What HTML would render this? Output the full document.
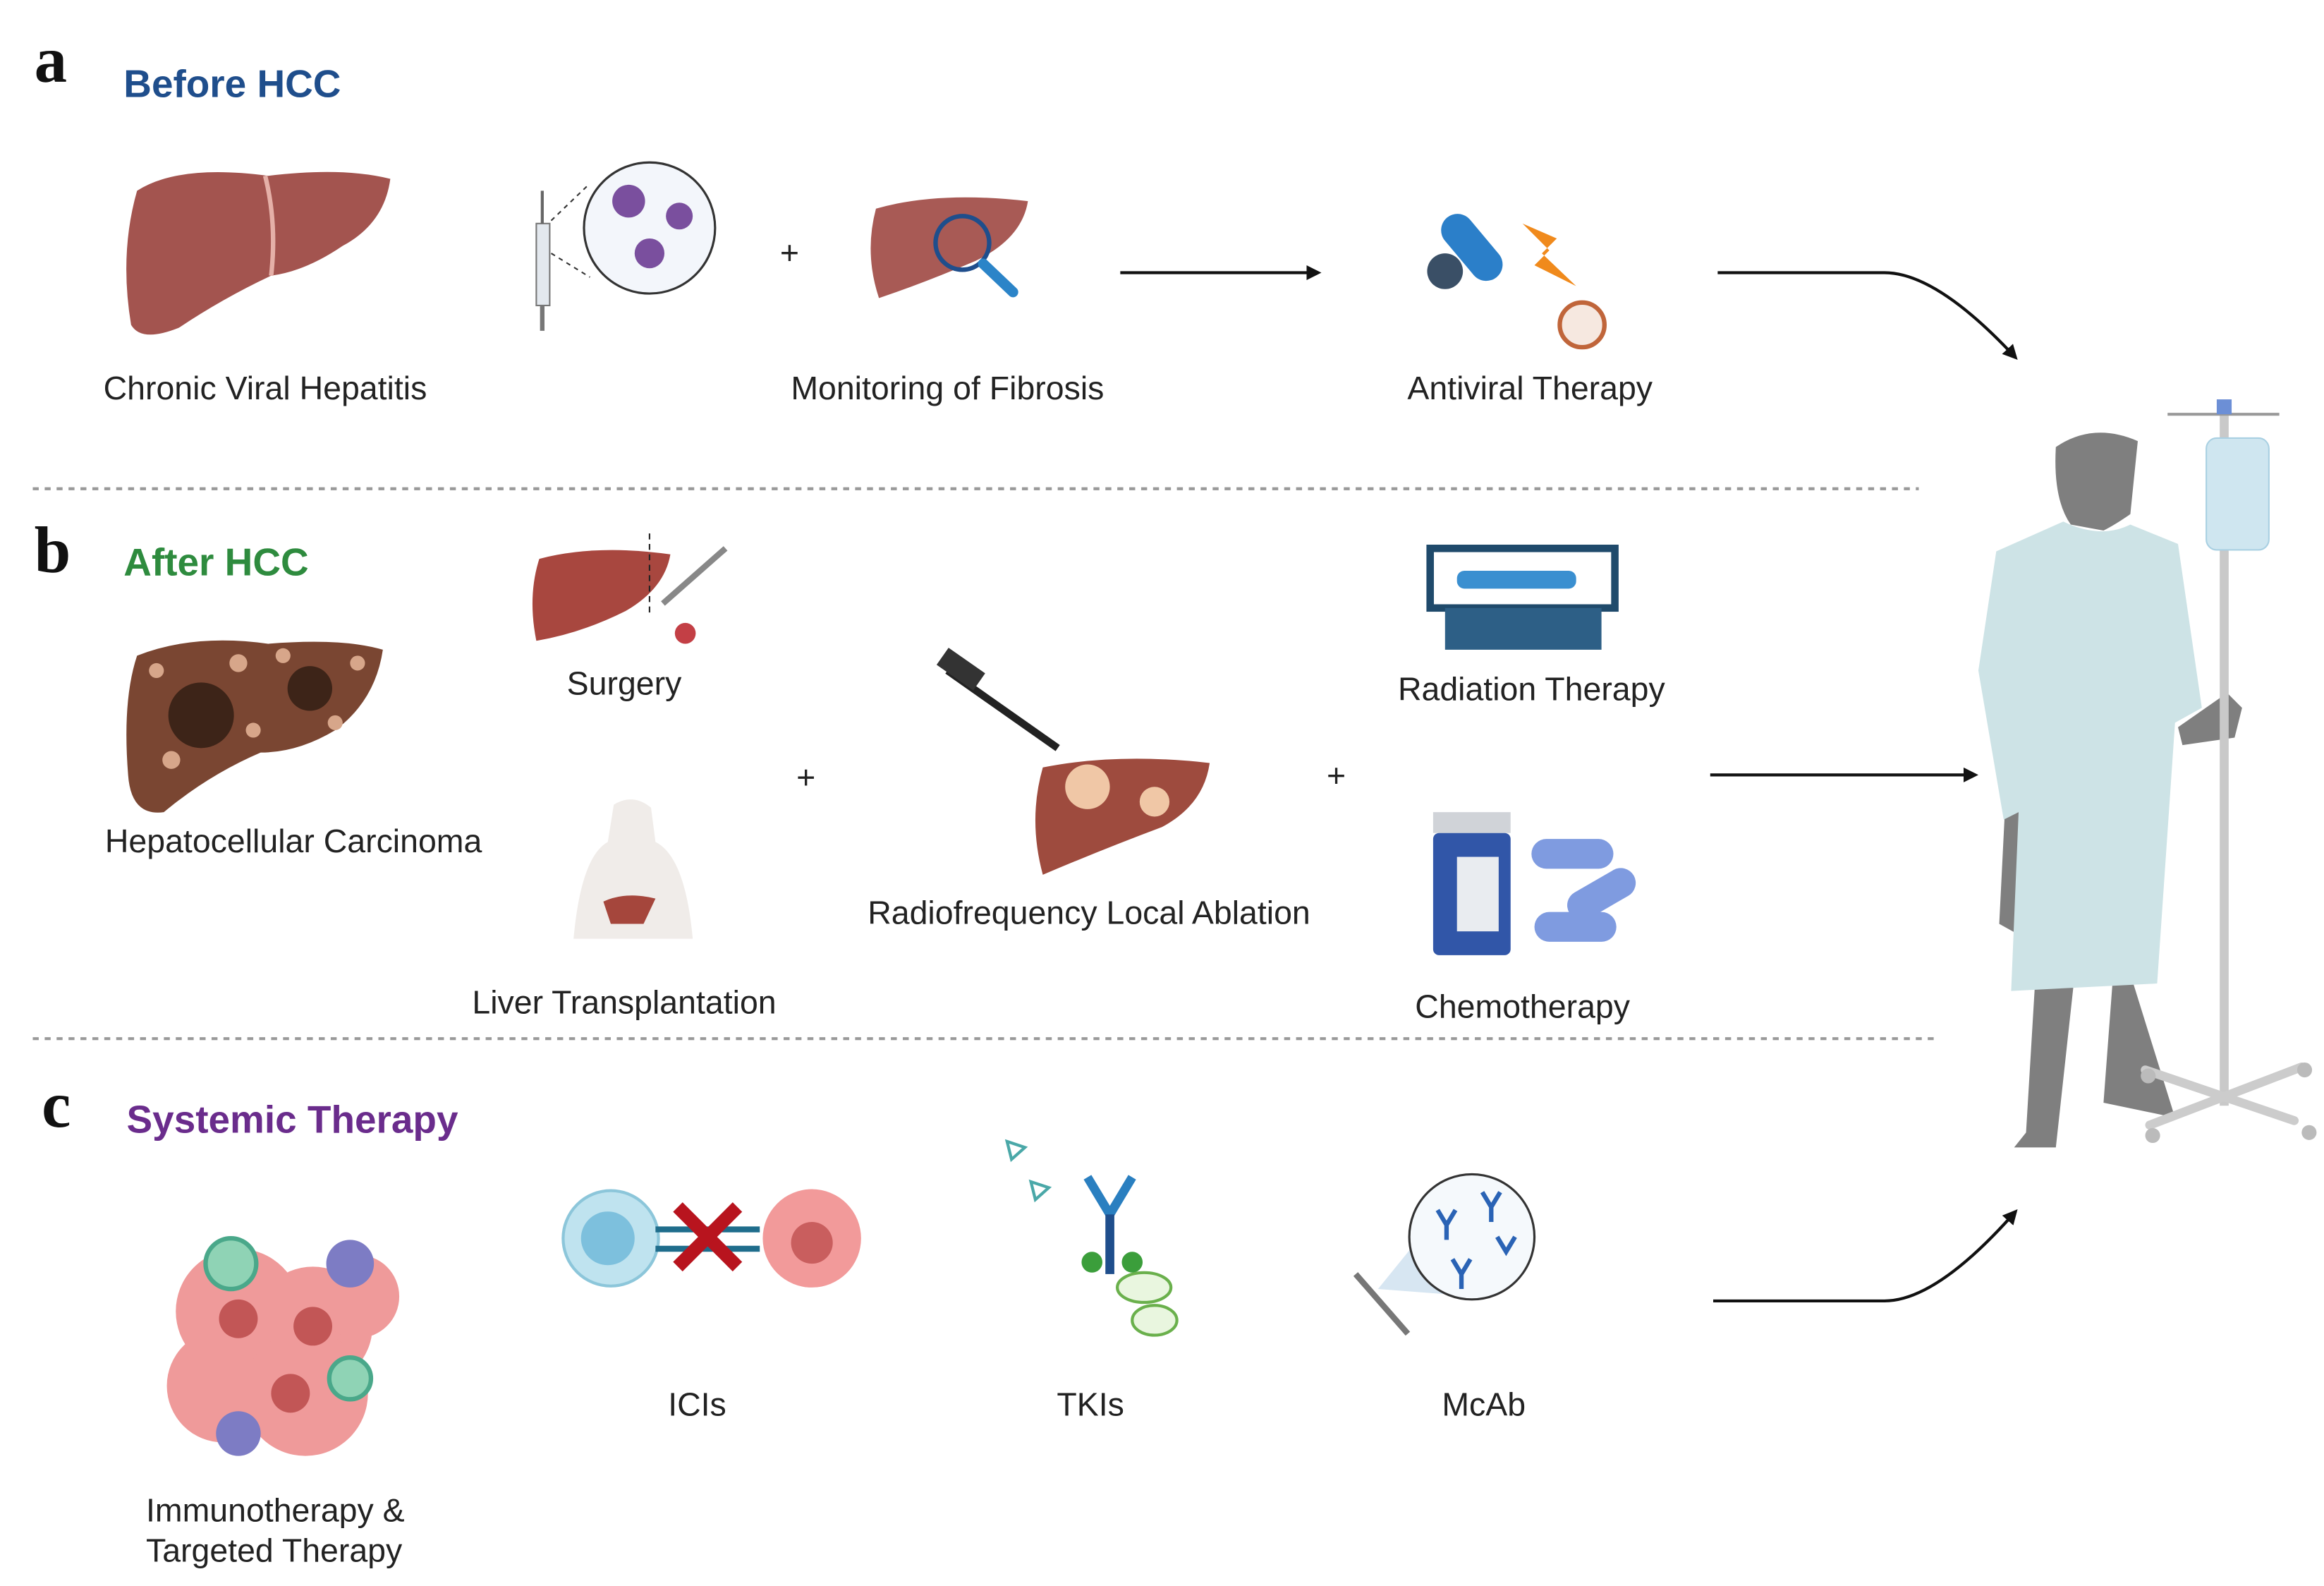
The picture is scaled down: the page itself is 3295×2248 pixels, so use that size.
<!DOCTYPE html>
<html><head><meta charset="utf-8"><style>
html,body{margin:0;padding:0;background:#fff;}
svg{display:block;}
text{font-family:"Liberation Sans",sans-serif;}
text.ser{font-family:"Liberation Serif",serif;}
</style></head><body>
<svg width="3295" height="2248" viewBox="0 0 1560 1064.3" xmlns="http://www.w3.org/2000/svg">
<defs>
<marker id="ah" markerWidth="10" markerHeight="10" refX="8" refY="5" orient="auto" markerUnits="userSpaceOnUse"><path d="M0,0 L10,5 L0,10 z" fill="#111"/></marker>
</defs>
<rect width="1560" height="1065" fill="#fff"/>
<!-- Section a -->
<text class="ser" x="23" y="55" font-weight="bold" font-size="44" fill="#111">a</text>
<text x="83" y="65" font-weight="bold" font-size="26" fill="#1f4e8c">Before HCC</text>
<path d="M92,128 Q120,110 180,118 Q230,112 262,120 Q258,150 230,165 Q205,182 182,185 Q150,200 120,220 Q95,230 88,218 Q80,170 92,128z" fill="#a3544f"/>
<path d="M178,118 Q186,150 182,185" stroke="#e5b0a8" stroke-width="3" fill="none"/>
<text x="178" y="268" font-size="22" text-anchor="middle" fill="#222">Chronic Viral Hepatitis</text>
<rect x="360" y="150" width="9" height="55" fill="#e3e8ee" stroke="#777"/>
<line x1="364" y1="128" x2="364" y2="150" stroke="#666" stroke-width="2"/>
<line x1="364" y1="205" x2="364" y2="222" stroke="#777" stroke-width="3"/>
<circle cx="436" cy="153" r="44" fill="#f3f6fb" stroke="#333" stroke-width="1.5"/>
<line x1="370" y1="148" x2="394" y2="125" stroke="#333" stroke-dasharray="3,3"/>
<line x1="370" y1="170" x2="396" y2="186" stroke="#333" stroke-dasharray="3,3"/>
<circle cx="422" cy="135" r="11" fill="#7a4f9e"/><circle cx="456" cy="145" r="9" fill="#7a4f9e"/><circle cx="436" cy="170" r="10" fill="#7a4f9e"/>
<text x="530" y="177" font-size="22" text-anchor="middle" fill="#222">+</text>
<path d="M588,140 Q630,128 690,135 Q686,160 655,175 Q620,190 590,200 Q580,170 588,140z" fill="#a85a55"/>
<circle cx="646" cy="163" r="18" fill="none" stroke="#1f4e8c" stroke-width="3"/>
<line x1="660" y1="177" x2="680" y2="196" stroke="#2b84c8" stroke-width="7" stroke-linecap="round"/>
<text x="636" y="268" font-size="22" text-anchor="middle" fill="#222">Monitoring of  Fibrosis</text>
<line x1="752" y1="183" x2="885" y2="183" stroke="#111" stroke-width="2" marker-end="url(#ah)"/>
<rect x="977" y="140" width="22" height="52" rx="11" transform="rotate(-40 988 166)" fill="#2b7fc9"/>
<circle cx="970" cy="182" r="12" fill="#3a4f66"/>
<path d="M1022,150 L1045,160 L1035,170 L1058,192 L1030,178 L1040,168z" fill="#f08a1c"/>
<circle cx="1062" cy="218" r="15" fill="#f6e8e0" stroke="#c0653a" stroke-width="3"/>
<text x="1027" y="268" font-size="22" text-anchor="middle" fill="#222">Antiviral Therapy</text>
<path d="M1153,183 L1265,183 Q1300,183 1353,240" stroke="#111" stroke-width="2" fill="none" marker-end="url(#ah)"/>
<line x1="22" y1="328" x2="1288" y2="328" stroke="#999" stroke-width="2" stroke-dasharray="4,4"/>
<!-- Section b -->
<text class="ser" x="23" y="384" font-weight="bold" font-size="44" fill="#111">b</text>
<text x="83" y="386" font-weight="bold" font-size="26" fill="#2e8b3e">After HCC</text>
<path d="M92,440 Q130,425 180,432 Q230,428 257,436 Q252,470 225,490 Q200,505 175,505 Q140,520 110,545 Q88,548 86,520 Q82,470 92,440z" fill="#7a4632"/>
<circle cx="135" cy="480" r="22" fill="#3d2418"/><circle cx="208" cy="462" r="15" fill="#3d2418"/>
<g fill="#d7a68a"><circle cx="105" cy="450" r="5"/><circle cx="160" cy="445" r="6"/><circle cx="240" cy="445" r="5"/><circle cx="115" cy="510" r="6"/><circle cx="170" cy="490" r="5"/><circle cx="225" cy="485" r="5"/><circle cx="190" cy="440" r="5"/></g>
<text x="197" y="572" font-size="22" text-anchor="middle" fill="#222">Hepatocellular Carcinoma</text>
<path d="M362,375 Q400,365 450,372 Q446,395 420,410 Q390,425 360,430 Q354,400 362,375z" fill="#a8473f"/>
<line x1="436" y1="358" x2="436" y2="412" stroke="#222" stroke-dasharray="4,3"/>
<line x1="445" y1="405" x2="487" y2="368" stroke="#888" stroke-width="4"/>
<circle cx="460" cy="425" r="7" fill="#c33f45"/>
<text x="419" y="466" font-size="22" text-anchor="middle" fill="#222">Surgery</text>
<path d="M412,540 Q425,532 437,542 L440,565 Q460,575 465,630 L385,630 Q390,575 408,565z" fill="#f0ece9"/>
<path d="M405,605 Q420,598 440,603 L432,620 L410,620z" fill="#a5463c"/>
<text x="419" y="680" font-size="22" text-anchor="middle" fill="#222">Liver Transplantation</text>
<text x="541" y="529" font-size="22" text-anchor="middle" fill="#222">+</text>
<line x1="636" y1="450" x2="710" y2="502" stroke="#222" stroke-width="5"/>
<rect x="630" y="442" width="30" height="14" transform="rotate(35 645 449)" fill="#333"/>
<path d="M700,515 Q750,505 812,512 Q808,540 780,555 Q740,570 700,587 Q690,550 700,515z" fill="#9e4b3e"/>
<circle cx="730" cy="528" r="15" fill="#f0c7a6"/><circle cx="775" cy="538" r="10" fill="#f0c7a6"/>
<text x="731" y="620" font-size="22" text-anchor="middle" fill="#222">Radiofrequency Local Ablation</text>
<text x="897" y="528" font-size="22" text-anchor="middle" fill="#222">+</text>
<rect x="960" y="368" width="124" height="40" fill="#fff" stroke="#1f4a6b" stroke-width="5"/>
<rect x="978" y="383" width="80" height="12" rx="5" fill="#3a8fd0"/>
<rect x="970" y="408" width="105" height="28" fill="#2d5f86"/>
<text x="1028" y="470" font-size="22" text-anchor="middle" fill="#222">Radiation Therapy</text>
<rect x="962" y="545" width="52" height="14" fill="#d0d3d8"/>
<rect x="962" y="559" width="52" height="82" rx="4" fill="#3156a8"/>
<rect x="978" y="575" width="28" height="50" fill="#e9ecf0"/>
<rect x="1028" y="563" width="55" height="20" rx="10" fill="#7f9be0"/>
<rect x="1050" y="590" width="50" height="20" rx="10" transform="rotate(-30 1075 600)" fill="#7f9be0"/>
<rect x="1030" y="612" width="55" height="20" rx="10" fill="#7f9be0"/>
<text x="1022" y="683" font-size="22" text-anchor="middle" fill="#222">Chemotherapy</text>
<line x1="1148" y1="520" x2="1326" y2="520" stroke="#111" stroke-width="2" marker-end="url(#ah)"/>
<line x1="22" y1="697" x2="1300" y2="697" stroke="#999" stroke-width="2" stroke-dasharray="4,4"/>
<!-- Section c -->
<text class="ser" x="28" y="756" font-weight="bold" font-size="44" fill="#111">c</text>
<text x="85" y="760" font-weight="bold" font-size="26" fill="#6a2c8c">Systemic Therapy</text>
<g fill="#ef9a9a"><circle cx="160" cy="880" r="42"/><circle cx="210" cy="890" r="40"/><circle cx="150" cy="930" r="38"/><circle cx="205" cy="935" r="42"/><circle cx="240" cy="870" r="28"/></g>
<g fill="#c25656"><circle cx="160" cy="885" r="13"/><circle cx="210" cy="890" r="13"/><circle cx="195" cy="935" r="13"/></g>
<circle cx="155" cy="848" r="17" fill="#8fd3b5" stroke="#4aa88a" stroke-width="3"/>
<circle cx="235" cy="925" r="14" fill="#8fd3b5" stroke="#4aa88a" stroke-width="3"/>
<circle cx="235" cy="848" r="16" fill="#7d7cc4"/><circle cx="160" cy="962" r="15" fill="#7d7cc4"/>
<text x="98" y="1021" font-size="22" fill="#222">Immunotherapy &amp;</text>
<text x="98" y="1048" font-size="22" fill="#222">Targeted Therapy</text>
<circle cx="410" cy="831" r="32" fill="#bfe3ef" stroke="#8cc6da" stroke-width="2"/>
<circle cx="408" cy="831" r="18" fill="#7dc0dd"/>
<circle cx="545" cy="831" r="33" fill="#f29a9a"/><circle cx="545" cy="834" r="14" fill="#c95e5e"/>
<line x1="440" y1="825" x2="510" y2="825" stroke="#1f6d8c" stroke-width="4"/>
<line x1="440" y1="838" x2="510" y2="838" stroke="#1f6d8c" stroke-width="4"/>
<line x1="455" y1="810" x2="495" y2="850" stroke="#b8141e" stroke-width="9"/>
<line x1="495" y1="810" x2="455" y2="850" stroke="#b8141e" stroke-width="9"/>
<text x="468" y="950" font-size="22" text-anchor="middle" fill="#222">ICIs</text>
<path d="M676,766 L688,770 L679,778z" fill="none" stroke="#4aa8a8" stroke-width="2"/>
<path d="M692,793 L704,797 L695,805z" fill="none" stroke="#4aa8a8" stroke-width="2"/>
<path d="M730,790 L745,815 L760,790" stroke="#2a7fc0" stroke-width="6" fill="none"/>
<line x1="745" y1="815" x2="745" y2="855" stroke="#1f4e8c" stroke-width="6"/>
<circle cx="733" cy="847" r="7" fill="#3b9e3b"/><circle cx="760" cy="847" r="7" fill="#3b9e3b"/>
<ellipse cx="768" cy="864" rx="18" ry="10" fill="#e9f6df" stroke="#6ab04c" stroke-width="2"/>
<ellipse cx="775" cy="886" rx="15" ry="10" fill="#e9f6df" stroke="#6ab04c" stroke-width="2"/>
<text x="732" y="950" font-size="22" text-anchor="middle" fill="#222">TKIs</text>
<path d="M925,865 L955,828 L990,870z" fill="#d7e6f2"/>
<circle cx="988" cy="830" r="42" fill="#f5f9fc" stroke="#333" stroke-width="1.5"/>
<g stroke="#2a63b5" stroke-width="3" fill="none"><path d="M965,812 l6,10 l6,-10 M971,822 v10"/><path d="M995,800 l6,10 l6,-10 M1001,810 v10"/><path d="M975,845 l6,10 l6,-10 M981,855 v10"/><path d="M1005,830 l6,10 l6,-10"/></g>
<line x1="910" y1="855" x2="945" y2="895" stroke="#777" stroke-width="4"/>
<text x="996" y="950" font-size="22" text-anchor="middle" fill="#222">McAb</text>
<path d="M1150,873 L1265,873 Q1300,873 1353,813" stroke="#111" stroke-width="2" fill="none" marker-end="url(#ah)"/>
<!-- Patient -->
<path d="M1380,300 Q1405,283 1435,296 L1430,345 Q1420,352 1412,356 L1390,352 Q1378,335 1380,300z" fill="#7f7f7f"/>
<path d="M1346,540 L1342,620 L1360,630 L1368,545z" fill="#7f7f7f"/>
<path d="M1462,488 L1495,465 L1505,475 L1500,495 L1465,500z" fill="#7f7f7f"/>
<path d="M1366,660 L1360,760 L1352,770 L1380,770 L1392,660z M1418,660 L1412,740 L1460,750 L1432,660z" fill="#7f7f7f"/>
<path d="M1385,350 Q1410,362 1430,352 L1462,365 L1478,475 L1460,485 L1448,660 L1350,665 L1355,545 L1345,550 L1328,450 L1340,370z" fill="#cde3e6"/>
<line x1="1493" y1="272" x2="1493" y2="742" stroke="#c9c9c9" stroke-width="6"/>
<line x1="1455" y1="278" x2="1530" y2="278" stroke="#999" stroke-width="2"/>
<rect x="1488" y="268" width="10" height="10" fill="#6c8fd6"/>
<rect x="1481" y="294" width="42" height="75" rx="7" fill="#cfe6f0" stroke="#a9d0e2"/>
<g stroke="#cccccc" stroke-width="6" stroke-linecap="round"><line x1="1440" y1="718" x2="1540" y2="752"/><line x1="1545" y1="716" x2="1443" y2="755"/></g>
<g fill="#bbb"><circle cx="1442" cy="722" r="5"/><circle cx="1547" cy="718" r="5"/><circle cx="1445" cy="762" r="5"/><circle cx="1550" cy="760" r="5"/></g>
</svg>
</body></html>
